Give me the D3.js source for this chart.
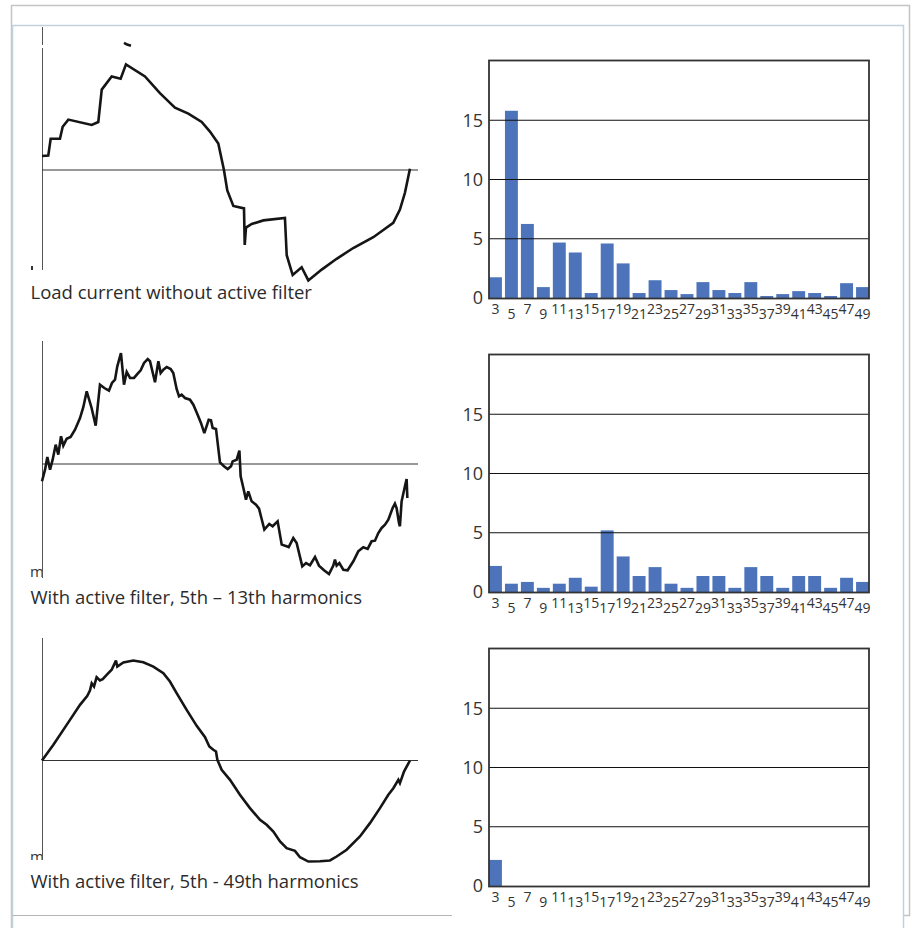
<!DOCTYPE html>
<html lang="en">
<head>
    <meta charset="UTF-8">
    <title>Load current with and without active filter</title>
    <script src="https://d3js.org/d3.v7.min.js"></script>
    <style>
        body {
            margin: 0;
            background: #fff;
            font-family: "Open Sans", Arial, sans-serif;
        }
        .caption {
            font-size: 18.5px;
            fill: #2b2b2b;
        }
        .ytick {
            font-size: 18px;
            fill: #333;
        }
        .xtick {
            font-size: 14px;
            fill: #333;
        }
    </style>
</head>
<body>
    <div id="chart"></div>

    <script>
        // Harmonic orders on the spectrum axis
        const harmonics = [3, 5, 7, 9, 11, 13, 15, 17, 19, 21, 23, 25, 27, 29, 31, 33, 35, 37, 39, 41, 43, 45, 47, 49];
        const yTicks = [0, 5, 10, 15];

        // Harmonic content (%)
        const spectrumLoad = [1.75, 15.8, 6.25, 0.92, 4.68, 3.84, 0.42, 4.6, 2.92, 0.42, 1.5, 0.67, 0.33, 1.34, 0.67, 0.42, 1.34, 0.17, 0.33, 0.58, 0.42, 0.17, 1.25, 0.92];
        const spectrumFilter13 = [2.2, 0.7, 0.85, 0.35, 0.7, 1.2, 0.45, 5.2, 3.0, 1.35, 2.1, 0.7, 0.35, 1.35, 1.35, 0.35, 2.1, 1.35, 0.35, 1.35, 1.35, 0.35, 1.2, 0.85];
        const spectrumFilter49 = [2.2, 0, 0, 0, 0, 0, 0, 0, 0, 0, 0, 0, 0, 0, 0, 0, 0, 0, 0, 0, 0, 0, 0, 0];

        // Waveforms: [phase in degrees, current relative to peak]
        const waveLoad = [[0, 0.117], [6, 0.12], [8.3, 0.26], [17.2, 0.26], [19.8, 0.36], [25.2, 0.42], [47.6, 0.375], [53.9, 0.4], [57.2, 0.67], [66.7, 0.78], [75.3, 0.76], [80.4, 0.88], [98.6, 0.78], [112.9, 0.64], [127.3, 0.52], [140.1, 0.47], [152.9, 0.4], [160.8, 0.32], [168.8, 0.22], [174.2, 0], [177.4, -0.17], [183.2, -0.3], [193.4, -0.32], [194.1, -0.625], [195.3, -0.48], [200.8, -0.45], [211.9, -0.42], [232.6, -0.4], [234.3, -0.71], [240, -0.875], [248.6, -0.81], [255, -0.92], [267.8, -0.83], [282.1, -0.74], [298, -0.65], [317.2, -0.56], [326.8, -0.5], [336.3, -0.44], [342.7, -0.33], [347.5, -0.19], [352.3, 0.01]];
        const waveLoadFragment = [[78.5, 1.06], [81.5, 1.045], [85.2, 1.035]];

        const waveFilter13 = [[0, -0.144], [2.9, -0.047], [5.1, 0.058], [7.7, -0.047], [10.2, 0.036], [13.1, 0.161], [15.6, 0.078], [18.2, 0.231], [20.4, 0.153], [23.6, 0.211], [27.4, 0.225], [31.6, 0.286], [36.4, 0.383], [39.6, 0.475], [42.8, 0.606], [47.5, 0.467], [51.4, 0.319], [55.5, 0.661], [59.7, 0.633], [64.1, 0.611], [67, 0.675], [69.9, 0.703], [72.1, 0.814], [75.6, 0.925], [78.5, 0.661], [81.1, 0.767], [84.3, 0.717], [88.1, 0.717], [91.6, 0.753], [94.5, 0.781], [97.7, 0.842], [101.2, 0.875], [103.4, 0.856], [108.2, 0.681], [111.4, 0.856], [113.6, 0.758], [116.2, 0.786], [119.4, 0.808], [123.2, 0.792], [125.7, 0.758], [128.9, 0.625], [131.2, 0.564], [133.7, 0.578], [136.9, 0.55], [141.7, 0.536], [144.9, 0.494], [149, 0.411], [152.2, 0.342], [155.4, 0.258], [159.6, 0.369], [161.8, 0.364], [163.4, 0.3], [166.6, 0.292], [170.4, 0.014], [174.2, -0.019], [177.8, -0.042], [181, -0.019], [182.5, 0.022], [186.4, 0.036], [189, 0.111], [190.2, -0.103], [192.8, -0.2], [195.3, -0.297], [197.5, -0.228], [200.7, -0.311], [204.9, -0.339], [207.8, -0.372], [210.3, -0.458], [212.9, -0.547], [217.6, -0.5], [220.8, -0.519], [225.6, -0.478], [229.5, -0.672], [234.2, -0.686], [236.2, -0.692], [240.6, -0.617], [243.8, -0.658], [249.2, -0.853], [252.8, -0.825], [256.6, -0.844], [261.4, -0.775], [265.2, -0.847], [270, -0.886], [274.8, -0.917], [278.9, -0.847], [280.5, -0.797], [282.1, -0.847], [284.7, -0.825], [288.5, -0.881], [292.6, -0.886], [298.1, -0.811], [302.8, -0.728], [307.6, -0.694], [311.8, -0.708], [315.6, -0.644], [318.8, -0.639], [322, -0.575], [325.2, -0.533], [328.4, -0.506], [331.6, -0.464], [335.7, -0.367], [337.9, -0.331], [339.5, -0.367], [341.8, -0.492], [342.7, -0.519], [344.3, -0.311], [347.5, -0.186], [349.1, -0.125], [349.8, -0.283]];

        const waveFilter49 = [[0, 0], [10.9, 0.131], [23.6, 0.297], [36.4, 0.464], [43.4, 0.539], [45.9, 0.583], [47.6, 0.644], [49.8, 0.617], [52.3, 0.694], [55.5, 0.667], [58.1, 0.678], [61.9, 0.714], [66.7, 0.756], [68.9, 0.797], [70.8, 0.833], [72.1, 0.783], [77.9, 0.817], [87.4, 0.833], [97, 0.819], [106.6, 0.783], [116.2, 0.728], [122.5, 0.658], [128.9, 0.561], [138.5, 0.422], [148.1, 0.289], [156.1, 0.194], [160.2, 0.117], [164, 0.089], [166.6, 0.075], [167.9, 0.006], [172, -0.078], [180, -0.161], [189.5, -0.286], [199.1, -0.397], [208.7, -0.494], [215.1, -0.536], [221.5, -0.592], [227.9, -0.675], [234.2, -0.731], [242.2, -0.753], [247, -0.806], [255, -0.842], [266.2, -0.839], [275.7, -0.833], [282.1, -0.8], [291.7, -0.744], [304.4, -0.633], [314, -0.522], [323.6, -0.397], [331.6, -0.286], [336.4, -0.231], [341.2, -0.161], [342.7, -0.189], [346.6, -0.092], [352.3, 0]];

        const captions = ["Load current without active filter", "With active filter, 5th \u2013 13th harmonics", "With active filter, 5th - 49th harmonics"];

        // Panel layout (page pixels); stub = cut-off axis label left of the waveform
        const panels = [
            { wave: waveLoad, extra: waveLoadFragment, spectrum: spectrumLoad, zero: 170, axis: [[27, 45], [48, 270]], stub: null, stubY: 0, stubClip: 0, caption: 299, barBottom: 298, barTop: 61 },
            { wave: waveFilter13, extra: null, spectrum: spectrumFilter13, zero: 464, axis: [[341, 578]], stub: "m", stubY: 577, stubClip: 578, caption: 604, barBottom: 592, barTop: 355 },
            { wave: waveFilter49, extra: null, spectrum: spectrumFilter49, zero: 760.5, axis: [[638, 860]], stub: "m", stubY: 862, stubClip: 860, caption: 888, barBottom: 886, barTop: 649 }
        ];

        const W = 915, H = 928;
        const svg = d3.select("#chart").append("svg")
            .attr("width", W)
            .attr("height", H);

        // Page frame
        const frame = svg.append("g").attr("fill", "none");
        frame.append("path").attr("d", "M11.5,928V5.5H909.5V915.5H903").attr("stroke", "#c4c4c4").attr("stroke-width", 1.5);
        frame.append("path").attr("d", "M12.5,25.5H903.5V928").attr("stroke", "#c3d1da").attr("stroke-width", 1.5);
        frame.append("path").attr("d", "M12.5,25V928").attr("stroke", "#c3d1da").attr("stroke-width", 1.5);
        frame.append("path").attr("d", "M12.5,915.5H452").attr("stroke", "#b5b5b5").attr("stroke-width", 1);

        // Scales shared by the panels
        const xWave = d3.scaleLinear().domain([0, 360]).range([42, 418]);
        const xBar = d3.scaleBand().domain(harmonics).range([489, 869]).paddingInner(0.19).paddingOuter(0);

        panels.forEach((p, i) => {
            const g = svg.append("g");

            // ---- waveform ----
            const yWave = d3.scaleLinear().domain([-1, 1]).range([p.zero + 120, p.zero - 120]);

            p.axis.forEach(seg => {
                g.append("line")
                    .attr("x1", 42.5).attr("x2", 42.5)
                    .attr("y1", seg[0]).attr("y2", seg[1])
                    .attr("stroke", "#555").attr("stroke-width", 1);
            });

            g.append("line")
                .attr("x1", xWave(0)).attr("x2", xWave(360))
                .attr("y1", yWave(0)).attr("y2", yWave(0))
                .attr("stroke", "#333").attr("stroke-width", 1.1);

            const line = d3.line()
                .x(d => xWave(d[0]))
                .y(d => yWave(d[1]));

            g.append("path")
                .datum(p.wave)
                .attr("d", line)
                .attr("fill", "none")
                .attr("stroke", "#151515")
                .attr("stroke-width", 2.6)
                .attr("stroke-linejoin", "miter")
                .attr("stroke-miterlimit", 3);

            if (p.extra) {
                g.append("path")
                    .datum(p.extra)
                    .attr("d", line)
                    .attr("fill", "none")
                    .attr("stroke", "#151515")
                    .attr("stroke-width", 2.6);
            }

            if (p.stub) {
                const clipId = "stub" + i;
                svg.append("clipPath").attr("id", clipId)
                    .append("rect").attr("x", 20).attr("y", p.stubClip - 20).attr("width", 22).attr("height", 20);
                g.append("text")
                    .attr("x", 30).attr("y", p.stubY)
                    .attr("clip-path", `url(#${clipId})`)
                    .style("font-size", "15px")
                    .style("fill", "#333")
                    .text(p.stub);
            } else {
                // small cut-off stroke below the first axis
                g.append("line")
                    .attr("x1", 32).attr("x2", 32)
                    .attr("y1", 266).attr("y2", 270)
                    .attr("stroke", "#333").attr("stroke-width", 2);
            }

            g.append("text")
                .attr("class", "caption")
                .attr("x", 30.5)
                .attr("y", p.caption)
                .text(captions[i]);

            // ---- spectrum ----
            const y = d3.scaleLinear().domain([0, 20]).range([p.barBottom, p.barTop]);

            g.selectAll(".bar")
                .data(p.spectrum.map((v, k) => ({ h: harmonics[k], v })))
                .enter()
                .append("rect")
                .attr("x", d => xBar(d.h))
                .attr("width", xBar.bandwidth())
                .attr("y", d => y(d.v))
                .attr("height", d => y(0) - y(d.v))
                .attr("fill", "#4d74bb");

            g.selectAll(".grid")
                .data(yTicks.filter(t => t > 0))
                .enter()
                .append("line")
                .attr("x1", 489).attr("x2", 869)
                .attr("y1", d => y(d)).attr("y2", d => y(d))
                .attr("stroke", "#111").attr("stroke-width", 1.2);

            g.append("rect")
                .attr("x", 489).attr("y", p.barTop - 0.5)
                .attr("width", 380).attr("height", p.barBottom - p.barTop + 1)
                .attr("fill", "none")
                .attr("stroke", "#333").attr("stroke-width", 1.8);

            g.selectAll(".ytick")
                .data(yTicks)
                .enter()
                .append("text")
                .attr("class", "ytick")
                .attr("x", 483)
                .attr("y", d => y(d))
                .attr("dy", "0.36em")
                .attr("text-anchor", "end")
                .text(d => d);

            g.selectAll(".xtick")
                .data(harmonics)
                .enter()
                .append("text")
                .attr("class", "xtick")
                .attr("x", d => xBar(d) + xBar.bandwidth() / 2)
                .attr("y", (d, k) => p.barBottom + (k % 2 === 0 ? 16 : 21))
                .attr("text-anchor", "middle")
                .text(d => d);
        });
    </script>
</body>
</html>
